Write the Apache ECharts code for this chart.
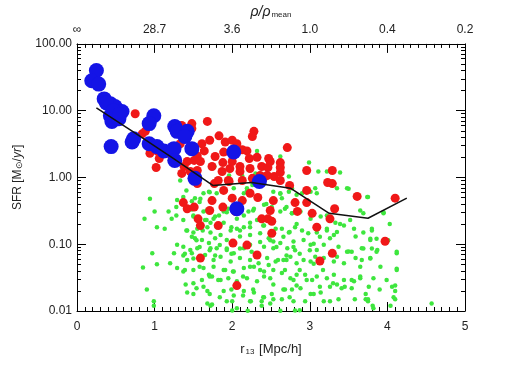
<!DOCTYPE html>
<html>
<head>
<meta charset="utf-8">
<script src="https://cdn.jsdelivr.net/npm/echarts@6/dist/echarts.min.js"></script>
<style>
  html, body { margin: 0; padding: 0; background: #fff; }
  #main { width: 518px; height: 370px; }
</style>
</head>
<body>
<div id="main"></div>
<script>
// r13 [Mpc/h] vs SFR [Msun/yr]
var greenPts = [
  [0.94,0.48],[0.87,0.24],[1.00,0.31],[1.18,0.31],[1.28,0.27],[1.22,0.24],[1.03,0.18],[1.13,0.17],
  [1.29,0.46],[1.37,0.51],[1.48,0.44],[1.52,0.49],[1.59,0.48],[1.63,0.58],[1.70,0.61],[1.80,0.58],
  [1.87,0.61],[2.02,0.69],[2.15,0.58],[2.19,0.69],[2.26,0.77],[2.41,0.81],[2.53,0.61],[1.48,0.33],
  [1.50,0.27],[1.63,0.31],[1.65,0.23],[1.68,0.18],[1.72,0.21],[1.76,0.24],[1.83,0.27],[1.89,0.31],
  [1.95,0.34],[2.06,0.24],[2.15,0.27],[2.21,0.31],[2.28,0.34],[2.41,0.39],[2.51,0.36],[1.42,0.16],
  [1.50,0.15],[1.55,0.17],[1.62,0.16],[1.72,0.15],[1.80,0.18],[1.89,0.21],[1.98,0.16],[2.06,0.17],
  [2.15,0.18],[2.23,0.21],[2.32,0.23],[2.41,0.19],[2.49,0.22],[2.56,0.17],[1.52,0.123],[1.61,0.116],
  [1.70,0.104],[1.78,0.123],[1.85,0.138],[1.93,0.116],[2.10,0.13],[2.23,0.138],[2.36,0.146],[2.47,0.123],
  [2.53,0.11],[1.29,0.098],[1.37,0.092],[1.46,0.082],[1.55,0.087],[1.72,0.087],[1.80,0.087],[1.93,0.082],
  [2.02,0.073],[2.15,0.087],[2.23,0.098],[2.41,0.092],[2.53,0.087],[1.25,0.073],[1.37,0.068],[1.48,0.073],
  [1.42,0.058],[1.65,0.069],[1.76,0.058],[1.85,0.065],[1.98,0.055],[2.10,0.062],[2.23,0.058],[2.34,0.052],
  [2.45,0.062],[2.56,0.055],[0.85,0.045],[1.03,0.050],[1.29,0.044],[1.37,0.039],[1.50,0.041],[1.63,0.044],
  [1.76,0.046],[1.89,0.041],[2.02,0.039],[2.15,0.044],[2.28,0.046],[2.41,0.039],[2.53,0.041],[0.97,0.073],
  [1.20,0.052],[0.90,0.021],[1.40,0.025],[1.50,0.026],[1.63,0.023],[1.70,0.035],[1.74,0.033],[1.85,0.029],
  [1.95,0.031],[2.06,0.028],[2.19,0.031],[2.32,0.028],[2.41,0.033],[2.49,0.031],[2.53,0.025],[0.99,0.014],
  [0.99,0.012],[1.42,0.019],[1.50,0.018],[1.68,0.020],[1.89,0.020],[2.02,0.017],[2.15,0.020],[2.28,0.019],
  [2.41,0.016],[2.51,0.018],[1.68,0.013],[1.72,0.012],[1.93,0.014],[2.06,0.011],[2.23,0.014],[2.38,0.012],
  [2.49,0.013],
  [2.62,0.58],[2.64,0.49],[2.73,0.61],[2.77,0.69],[2.83,0.55],[2.90,0.58],[3.01,0.61],[3.07,0.69],
  [3.09,0.58],[3.35,0.69],[3.48,0.69],[3.74,0.51],[2.62,0.31],[2.68,0.34],[2.77,0.29],[2.88,0.31],
  [3.01,0.24],[3.14,0.26],[3.22,0.27],[3.33,0.21],[3.44,0.19],[3.57,0.17],[3.69,0.29],[3.95,0.29],
  [2.64,0.17],[2.73,0.15],[2.81,0.18],[2.90,0.16],[2.98,0.146],[3.09,0.15],[3.22,0.16],[3.31,0.138],
  [3.59,0.13],[3.69,0.15],[3.78,0.116],[3.80,0.17],[2.62,0.104],[2.71,0.087],[2.79,0.11],[2.92,0.116],
  [3.01,0.098],[3.09,0.082],[3.18,0.098],[3.26,0.123],[3.37,0.092],[3.50,0.078],[3.67,0.087],[3.87,0.082],
  [4.12,0.073],[2.66,0.058],[2.75,0.065],[2.83,0.052],[2.92,0.058],[3.01,0.055],[3.07,0.065],[3.18,0.062],
  [3.31,0.055],[3.44,0.052],[3.59,0.062],[3.67,0.058],[3.78,0.062],[3.91,0.046],[4.12,0.043],[2.64,0.037],
  [2.75,0.031],[2.83,0.035],[2.94,0.035],[3.03,0.029],[3.09,0.033],[3.22,0.031],[3.31,0.035],[3.35,0.025],
  [3.44,0.029],[3.57,0.028],[3.65,0.031],[3.76,0.023],[3.82,0.031],[4.06,0.023],[4.10,0.020],[2.66,0.021],
  [2.77,0.021],[2.88,0.022],[3.01,0.018],[3.14,0.019],[3.26,0.023],[3.41,0.022],[3.54,0.022],[3.72,0.018],
  [4.08,0.016],[2.64,0.015],[2.79,0.014],[2.94,0.014],[3.18,0.014],[3.37,0.015],[3.72,0.015],[3.82,0.011],
  [4.57,0.013],[4.04,0.012],
  [1.74,0.0125],[2.00,0.014],[2.00,0.0102],[2.20,0.0101],[2.24,0.014],[2.38,0.014],[2.62,0.0101],
  [2.81,0.0102],[2.87,0.0103],[3.75,0.014],[3.81,0.012],[4.10,0.015],
  [2.32,2.5],[2.62,2.06],[2.99,1.67],[3.11,1.23],[3.22,1.23],[2.73,1.03],[1.77,1.46],[2.51,1.07],
  [1.96,1.07],[3.39,1.19],[2.13,1.05],[2.30,1.15],
  [1.41,0.16],[1.48,0.129],[1.54,0.115],[1.58,0.091],[1.39,0.072],[1.50,0.061],[1.58,0.046],[1.39,0.041],
  [1.71,0.081],[1.78,0.068],[1.84,0.097],[1.93,0.086],[1.99,0.072],[2.10,0.086],[2.25,0.077],[2.36,0.108],
  [2.49,0.115],[2.57,0.091],[2.66,0.129],[2.74,0.153],[2.83,0.20],[2.70,0.068],[2.81,0.081],[2.59,0.058],
  [2.47,0.049],[2.36,0.041],[2.23,0.046],[2.14,0.033],[2.01,0.039],[1.91,0.041],[1.82,0.029],[1.71,0.033],
  [1.61,0.029],[1.54,0.022],[1.71,0.018],[1.84,0.016],[1.99,0.021],[2.14,0.017],[2.27,0.021],[2.40,0.016],
  [2.53,0.015],[2.68,0.021],[2.79,0.029],
  [1.33,0.90],[1.41,0.64],[1.71,0.60],[1.58,0.43],[1.67,0.32],[1.78,0.26],[1.93,0.30],[2.10,0.45],
  [2.19,0.64],[2.27,0.32],[2.44,0.40],[2.62,0.57],[2.70,0.36],[2.77,0.29],[2.53,0.23],[2.40,0.19],
  [2.23,0.18],[2.10,0.16],[1.99,0.18],[1.84,0.20],[1.67,0.23],[1.50,0.26],[1.37,0.23],[1.28,0.36],
  [3.50,0.68],[3.75,0.51],[3.65,0.32],[3.52,0.23],[3.39,0.20],[3.35,0.153],[3.22,0.17],[3.13,0.129],
  [3.05,0.102],[3.00,0.081],[2.87,0.072],[2.79,0.091],[2.70,0.058],[2.68,0.041],[2.87,0.041],[3.05,0.051],
  [3.17,0.041],[3.35,0.065],[3.48,0.077],[3.54,0.077],[3.69,0.086],[3.80,0.086],[3.86,0.077],[3.78,0.061],
  [3.65,0.046],[3.54,0.029],[3.65,0.033],[3.45,0.023],[3.30,0.026],[3.13,0.023],[2.96,0.029],[2.83,0.024],
  [2.74,0.016],[3.05,0.018],[3.26,0.014],[3.58,0.015],[3.80,0.16],[3.86,0.121],[3.78,0.121],[4.12,0.077],
  [4.12,0.041],[4.10,0.024],[3.99,0.029],[3.90,0.021],[3.75,0.015],[3.95,0.30],[4.03,0.20],[4.01,0.115]
];

var redPts = [
  [0.75,9.0],[0.88,4.9],[0.84,4.5],[0.97,3.2],[1.03,2.5],[0.94,2.3],[1.06,1.92],[1.02,1.41],
  [1.16,2.3],[1.19,2.5],[1.33,3.2],[1.35,6.0],[1.48,6.4],[1.48,5.4],[1.68,6.9],[1.61,3.2],
  [1.64,2.5],[1.55,2.1],[1.51,1.8],[1.59,1.73],[1.42,1.73],[1.38,1.46],[1.46,1.23],[1.35,1.15],
  [1.71,3.6],[1.83,4.2],[1.91,3.4],[2.00,3.6],[1.89,2.4],[1.78,2.06],[1.74,1.46],[1.87,1.23],
  [1.97,1.36],[2.06,3.2],[2.13,2.6],[2.19,2.5],[2.22,1.92],[2.10,1.46],[2.10,1.23],[2.23,1.36],
  [2.28,4.9],[2.26,4.1],[2.32,2.0],[2.47,1.92],[2.49,1.73],[2.38,1.46],[2.36,1.07],[2.45,1.07],
  [2.54,1.03],[2.71,2.8],[2.01,2.2],[1.88,1.67],[2.00,1.73],[2.46,1.41],[2.62,1.67],[2.62,1.41],
  [2.62,1.19],[1.55,1.27],[1.82,0.90],[1.95,0.90],[2.13,0.90],[2.26,0.97],[2.40,0.97],[2.62,0.90],
  [2.74,0.76],[2.96,1.27],[3.29,1.27],[3.23,0.84],[3.29,0.81],[2.96,0.64],[3.61,0.52],[4.10,0.49],
  [1.37,0.42],[1.42,0.34],[1.74,0.45],[1.71,0.32],[1.88,0.36],[2.13,0.45],[2.33,0.50],[2.49,0.32],
  [2.46,0.24],[2.38,0.24],[2.53,0.45],[2.81,0.42],[2.96,0.42],[3.03,0.29],[3.32,0.34],[3.26,0.24],
  [3.09,0.18],[1.56,0.24],[1.59,0.19],[1.82,0.19],[2.51,0.146],[2.19,0.097],[2.01,0.104],[3.97,0.111],
  [1.51,0.36],[1.89,0.64],[2.00,0.49],[2.04,0.31],[2.23,0.58],[2.51,0.22],[2.32,0.069],[1.59,0.062],
  [2.06,0.024],[1.55,0.81],[1.77,0.81],[1.96,0.87],[2.84,0.31],[3.13,0.056],[3.29,0.073]
];

var bluePts = [
  [0.25,40],[0.19,28],[0.28,25],[0.35,15],[0.43,12.7],[0.49,11.5],[0.58,9.7],[0.43,8.4],
  [0.45,6.9],[0.54,7.6],[0.38,13],[0.47,10],[0.55,8.8],[0.44,2.9],[0.99,8.4],[0.93,6.4],
  [0.73,3.8],[0.71,3.4],[0.93,3.2],[1.03,2.9],[1.12,2.5],[1.26,5.8],[1.29,4.9],[1.42,4.9],
  [1.39,4.1],[1.25,2.7],[1.26,1.8],[1.48,2.7],[2.02,2.4],[1.52,0.97],[2.35,0.87],[2.06,0.34]
];

// running median
var medianLine = [
  [0.25,11],[0.75,4.6],[1.25,1.9],[1.75,0.76],[2.25,0.84],[2.75,0.69],[3.25,0.29],[3.75,0.245],[4.25,0.49]
];

var topTickLabels = ['\u221e', '28.7', '3.6', '1.0', '0.4', '0.2'];

// minor ticks 2..9 in every decade
var logMinor = [];
[0.01, 0.1, 1, 10].forEach(function (d) {
  for (var k = 2; k <= 9; k++) logMinor.push(+(d * k).toPrecision(3));
});

var font = 'Liberation Sans, Arial, sans-serif';
var axisCol = '#000';
var labelCol = '#222';

function xAx(pos, extra) {
  var a = {
    type: 'value', min: 0, max: 5, interval: 1, position: pos,
    axisLine: { show: true, onZero: false, lineStyle: { color: axisCol, width: 1 } },
    axisTick: { show: true, inside: true, length: 9, lineStyle: { color: axisCol, width: 1 } },
    minorTick: { show: true, splitNumber: 10, length: 4, lineStyle: { color: axisCol, width: 1 } },
    splitLine: { show: false },
    axisLabel: { color: labelCol, fontFamily: font, fontSize: 12, margin: 10 }
  };
  return Object.assign(a, extra);
}

function yAx(pos, major, extra) {
  var a = {
    type: 'log', logBase: 10, min: 0.01, max: 100, position: pos,
    axisLine: { show: major, onZero: false, lineStyle: { color: axisCol, width: 1 } },
    axisTick: major
      ? { show: true, inside: true, length: 9, lineStyle: { color: axisCol, width: 1 } }
      : { show: true, inside: true, length: 4, customValues: logMinor, lineStyle: { color: axisCol, width: 1 } },
    splitLine: { show: false },
    axisLabel: { show: false }
  };
  return Object.assign(a, extra);
}

var chart = echarts.init(document.getElementById('main'));
chart.setOption({
  animation: false,
  backgroundColor: '#fff',
  grid: { left: 77, right: 53, top: 43, bottom: 59 },
  xAxis: [
    xAx('bottom', {
      name: '{r|r}{s|13}{r| [Mpc/h]}',
      nameLocation: 'middle', nameGap: 31,
      nameTextStyle: {
        rich: {
          r: { fontFamily: font, fontSize: 13, color: labelCol },
          s: { fontFamily: font, fontSize: 8, color: labelCol, verticalAlign: 'bottom', padding: [6, 1, 0, 1] }
        }
      }
    }),
    xAx('top', {
      axisLabel: {
        color: labelCol, fontFamily: font, fontSize: 12, margin: 8,
        formatter: function (v) { return topTickLabels[Math.round(v)]; }
      },
      name: '{p|\u03c1/\u03c1}{m|mean}',
      nameLocation: 'middle', nameGap: 21,
      nameTextStyle: {
        rich: {
          p: { fontFamily: font, fontSize: 14, fontStyle: 'italic', color: labelCol },
          m: { fontFamily: font, fontSize: 8, color: labelCol, verticalAlign: 'bottom', padding: [6, 0, 0, 1] }
        }
      }
    })
  ],
  yAxis: [
    yAx('left', true, {
      axisLabel: {
        show: true, color: labelCol, fontFamily: font, fontSize: 12, margin: 5,
        formatter: function (v) { return v.toFixed(2); }
      },
      name: '{n|SFR [M}{o|\u2299}{n|/}{i|yr}{n|]}',
      nameLocation: 'middle', nameGap: 52, nameRotate: 90,
      nameTextStyle: {
        rich: {
          n: { fontFamily: font, fontSize: 12, color: labelCol },
          o: { fontFamily: font, fontSize: 9, color: labelCol, verticalAlign: 'bottom', padding: [5, 0, 0, 0] },
          i: { fontFamily: font, fontSize: 12, fontStyle: 'italic', color: labelCol }
        }
      }
    }),
    yAx('left', false, {}),
    yAx('right', true, {}),
    yAx('right', false, {})
  ],
  series: [
    {
      type: 'scatter', name: 'field', data: greenPts, symbolSize: 4.5,
      itemStyle: { color: '#3ee63e', opacity: 1 }, z: 2
    },
    {
      type: 'scatter', name: 'satellites', data: redPts, symbolSize: 9,
      itemStyle: { color: '#f01818', opacity: 1 }, z: 3
    },
    {
      type: 'scatter', name: 'centrals', data: bluePts, symbolSize: 15,
      itemStyle: { color: '#1414e6', opacity: 1 }, z: 4
    },
    {
      type: 'line', name: 'median', data: medianLine, symbol: 'none',
      lineStyle: { color: '#111', width: 1.5 }, z: 5
    }
  ]
});
</script>
</body>
</html>
